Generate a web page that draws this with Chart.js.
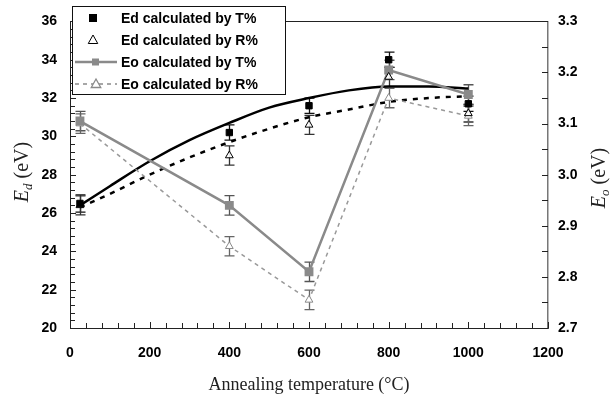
<!DOCTYPE html>
<html>
<head>
<meta charset="utf-8">
<script src="https://cdn.jsdelivr.net/npm/chart.js@4.4.1/dist/chart.umd.min.js"></script>
<style>
  html, body { margin: 0; padding: 0; background: #fff; }
  #wrap { width: 610px; height: 408px; }
</style>
</head>
<body>
<div id="wrap"><canvas id="chart" width="610" height="408"></canvas></div>
<script>
// annealing temperatures (°C)
const temps = [25, 400, 600, 800, 1000];

// Ed (eV), left axis
const edT = [26.5, 30.2, 31.6, 34.0, 31.7];
const edR = [26.4, 29.0, 30.6, 33.1, 31.2];
const edTErr = [0.45, 0.4, 0.4, 0.4, 0.4];
const edRErr = [0.5, 0.5, 0.5, 0.5, 0.45];

// Eo (eV), right axis
const eoT = [3.105, 2.94, 2.81, 3.205, 3.157];
const eoR = [3.10, 2.86, 2.755, 3.15, 3.115];
const eoTErr = [0.019, 0.019, 0.019, 0.019, 0.019];
const eoRErr = [0.019, 0.019, 0.019, 0.019, 0.019];

// polynomial trend lines through Ed
const trendX = [25, 100, 200, 300, 400, 500, 600, 700, 800, 900, 1000];
const trendT = [26.4, 27.4, 28.7, 29.8, 30.7, 31.5, 32.0, 32.4, 32.6, 32.6, 32.5];
const trendR = [26.3, 27.0, 28.0, 28.9, 29.7, 30.4, 31.0, 31.4, 31.8, 32.0, 32.1];

// tick labels
const xTicks = [0, 200, 400, 600, 800, 1000, 1200];
const edTicks = [20, 22, 24, 26, 28, 30, 32, 34, 36];
const eoTicks = [2.7, 2.8, 2.9, 3.0, 3.1, 3.2, 3.3];

const legendLabels = ['Ed calculated by T%', 'Ed calculated by R%', 'Eo calculated by T%', 'Eo calculated by R%'];

const GREY = '#8a8a8a';
const tickFont = { family: 'Liberation Sans', size: 14, weight: 'bold' };

function pts(xs, ys) {
  return xs.map((x, i) => ({ x: x, y: ys[i] }));
}

function tri(ctx, x, y, r) {
  ctx.beginPath();
  ctx.moveTo(x, y - r);
  ctx.lineTo(x + r * 0.95, y + r * 0.7);
  ctx.lineTo(x - r * 0.95, y + r * 0.7);
  ctx.closePath();
}

function errBars(ctx, chart, ys, errs, axis, color) {
  const xs = chart.scales.x, sc = chart.scales[axis];
  ctx.strokeStyle = color;
  ctx.lineWidth = 1.3;
  temps.forEach((t, i) => {
    const px = Math.round(xs.getPixelForValue(t)) + 0.5;
    const top = sc.getPixelForValue(ys[i] + errs[i]);
    const bot = sc.getPixelForValue(ys[i] - errs[i]);
    ctx.beginPath();
    ctx.moveTo(px, top); ctx.lineTo(px, bot);
    ctx.moveTo(px - 5, top); ctx.lineTo(px + 5, top);
    ctx.moveTo(px - 5, bot); ctx.lineTo(px + 5, bot);
    ctx.stroke();
  });
}

function sideTitle(ctx, cx, cy, sub) {
  ctx.save();
  ctx.translate(cx, cy);
  ctx.rotate(-Math.PI / 2);
  ctx.fillStyle = '#222';
  ctx.textBaseline = 'alphabetic';
  ctx.textAlign = 'left';
  const big = 'italic 20px "Liberation Serif"', small = 'italic 13px "Liberation Serif"', reg = '20px "Liberation Serif"';
  ctx.font = big; const w1 = ctx.measureText('E').width;
  ctx.font = small; const w2 = ctx.measureText(sub).width;
  ctx.font = reg; const w3 = ctx.measureText(' (eV)').width;
  let x = -(w1 + w2 + w3) / 2;
  const base = 6;
  ctx.font = big; ctx.fillText('E', x, base); x += w1;
  ctx.font = small; ctx.fillText(sub, x, base + 4); x += w2;
  ctx.font = reg; ctx.fillText(' (eV)', x, base);
  ctx.restore();
}

const decor = {
  id: 'decor',
  beforeDatasetsDraw(chart) {
    const ctx = chart.ctx;
    ctx.save();
    errBars(ctx, chart, edT, edTErr, 'y', '#111');
    errBars(ctx, chart, edR, edRErr, 'y', '#333');
    errBars(ctx, chart, eoT, eoTErr, 'y1', '#555');
    errBars(ctx, chart, eoR, eoRErr, 'y1', '#666');
    ctx.restore();
  },
  afterDraw(chart) {
    const ctx = chart.ctx;
    const a = chart.chartArea;
    const xs = chart.scales.x, yl = chart.scales.y, yr = chart.scales.y1;
    ctx.save();

    // top frame line
    ctx.strokeStyle = '#222';
    ctx.lineWidth = 1;
    ctx.beginPath();
    ctx.moveTo(a.left, Math.round(a.top) + 0.5);
    ctx.lineTo(a.right, Math.round(a.top) + 0.5);
    ctx.stroke();

    // inward ticks
    ctx.beginPath();
    for (let v = 0; v <= 1200; v += 40) {
      const p = Math.round(xs.getPixelForValue(v)) + 0.5;
      ctx.moveTo(p, a.bottom); ctx.lineTo(p, a.bottom - (v % 200 === 0 ? 6 : 5));
    }
    for (let k = 0; k <= 40; k++) {
      const p = Math.round(yl.getPixelForValue(20 + k * 0.4)) + 0.5;
      ctx.moveTo(a.left, p); ctx.lineTo(a.left + (k % 5 === 0 ? 6 : 5), p);
    }
    for (let k = 0; k <= 12; k++) {
      const p = Math.round(yr.getPixelForValue(2.7 + k * 0.05)) + 0.5;
      ctx.moveTo(a.right, p); ctx.lineTo(a.right - 6, p);
    }
    ctx.stroke();

    // axis titles
    sideTitle(ctx, 22, 172, 'd');
    sideTitle(ctx, 599, 178, 'o');
    ctx.fillStyle = '#222';
    ctx.font = '18px "Liberation Serif"';
    ctx.textAlign = 'center';
    ctx.textBaseline = 'middle';
    ctx.fillText('Annealing temperature (°C)', (a.left + a.right) / 2, 385);

    // legend box
    ctx.fillStyle = '#fff';
    ctx.fillRect(72, 6, 213, 88);
    ctx.strokeStyle = '#111';
    ctx.lineWidth = 1;
    ctx.strokeRect(72.5, 6.5, 213, 88);
    const rows = [18, 40, 62, 84];
    // row 1: black square
    ctx.fillStyle = '#000';
    ctx.fillRect(89, rows[0] - 4, 8, 8);
    // row 2: open triangle
    ctx.strokeStyle = '#000';
    ctx.lineWidth = 1;
    tri(ctx, 93, rows[1], 5);
    ctx.stroke();
    // row 3: grey solid line with square
    ctx.strokeStyle = GREY;
    ctx.lineWidth = 2.5;
    ctx.beginPath(); ctx.moveTo(75, rows[2]); ctx.lineTo(117, rows[2]); ctx.stroke();
    ctx.fillStyle = GREY;
    ctx.fillRect(92, rows[2] - 3.5, 7, 7);
    // row 4: grey dashed line with open triangle
    ctx.lineWidth = 1.3;
    ctx.setLineDash([4, 4]);
    ctx.beginPath(); ctx.moveTo(75, rows[3]); ctx.lineTo(117, rows[3]); ctx.stroke();
    ctx.setLineDash([]);
    ctx.fillStyle = '#fff';
    tri(ctx, 96, rows[3], 5);
    ctx.fill(); ctx.stroke();
    // texts
    ctx.fillStyle = '#000';
    ctx.font = 'bold 14px "Liberation Sans"';
    ctx.textAlign = 'left';
    ctx.textBaseline = 'middle';
    legendLabels.forEach((t, i) => ctx.fillText(t, 121, rows[i] + 1));

    ctx.restore();
  }
};

new Chart(document.getElementById('chart'), {
  type: 'line',
  data: {
    datasets: [
      {
        label: legendLabels[0], data: pts(temps, edT), yAxisID: 'y', showLine: false,
        pointStyle: 'rect', pointRadius: 4.5, backgroundColor: '#000', borderColor: '#000', borderWidth: 1, order: 1
      },
      {
        label: legendLabels[1], data: pts(temps, edR), yAxisID: 'y', showLine: false,
        pointStyle: 'triangle', pointRadius: 4.5, backgroundColor: 'rgba(255,255,255,0.9)', borderColor: '#000', borderWidth: 1, order: 2
      },
      {
        label: legendLabels[2], data: pts(temps, eoT), yAxisID: 'y1',
        borderColor: GREY, borderWidth: 2.5, pointStyle: 'rect', pointRadius: 4.5,
        backgroundColor: GREY, pointBorderColor: GREY, order: 3
      },
      {
        label: legendLabels[3], data: pts(temps, eoR), yAxisID: 'y1',
        borderColor: '#999', borderWidth: 1.5, borderDash: [4, 4], pointStyle: 'triangle', pointRadius: 4.5,
        backgroundColor: '#fff', pointBorderColor: GREY, pointBorderWidth: 1, order: 4
      },
      {
        label: 'trend T', data: pts(trendX, trendT), yAxisID: 'y',
        borderColor: '#000', borderWidth: 2.5, pointRadius: 0, cubicInterpolationMode: 'monotone', order: 5
      },
      {
        label: 'trend R', data: pts(trendX, trendR), yAxisID: 'y',
        borderColor: '#000', borderWidth: 2.5, borderDash: [5, 6], pointRadius: 0, cubicInterpolationMode: 'monotone', order: 6
      }
    ]
  },
  options: {
    responsive: false,
    animation: false,
    layout: { padding: { top: 19, left: 0, right: 0, bottom: 0 } },
    plugins: { legend: { display: false }, tooltip: { enabled: false } },
    scales: {
      x: {
        type: 'linear', min: 0, max: 1200,
        afterFit(s) { s.height = 80; },
        afterBuildTicks(s) { s.ticks = xTicks.map(v => ({ value: v })); },
        grid: { display: true, drawOnChartArea: false, drawTicks: false },
        border: { color: '#222', width: 1 },
        ticks: { font: tickFont, color: '#000', padding: 17, maxRotation: 0, callback: v => String(v) }
      },
      y: {
        position: 'left', min: 20, max: 36,
        afterFit(s) { s.width = 70; },
        afterBuildTicks(s) { s.ticks = edTicks.map(v => ({ value: v })); },
        grid: { display: true, drawOnChartArea: false, drawTicks: false },
        border: { color: '#222', width: 1 },
        ticks: { font: tickFont, color: '#000', padding: 13, callback: v => String(v) }
      },
      y1: {
        position: 'right', min: 2.7, max: 3.3,
        afterFit(s) { s.width = 62; },
        afterBuildTicks(s) { s.ticks = eoTicks.map(v => ({ value: v })); },
        grid: { display: true, drawOnChartArea: false, drawTicks: false },
        border: { color: '#777', width: 1.5 },
        ticks: { font: tickFont, color: '#000', padding: 10, callback: v => Number(v).toFixed(1) }
      }
    }
  },
  plugins: [decor]
});
</script>
</body>
</html>
